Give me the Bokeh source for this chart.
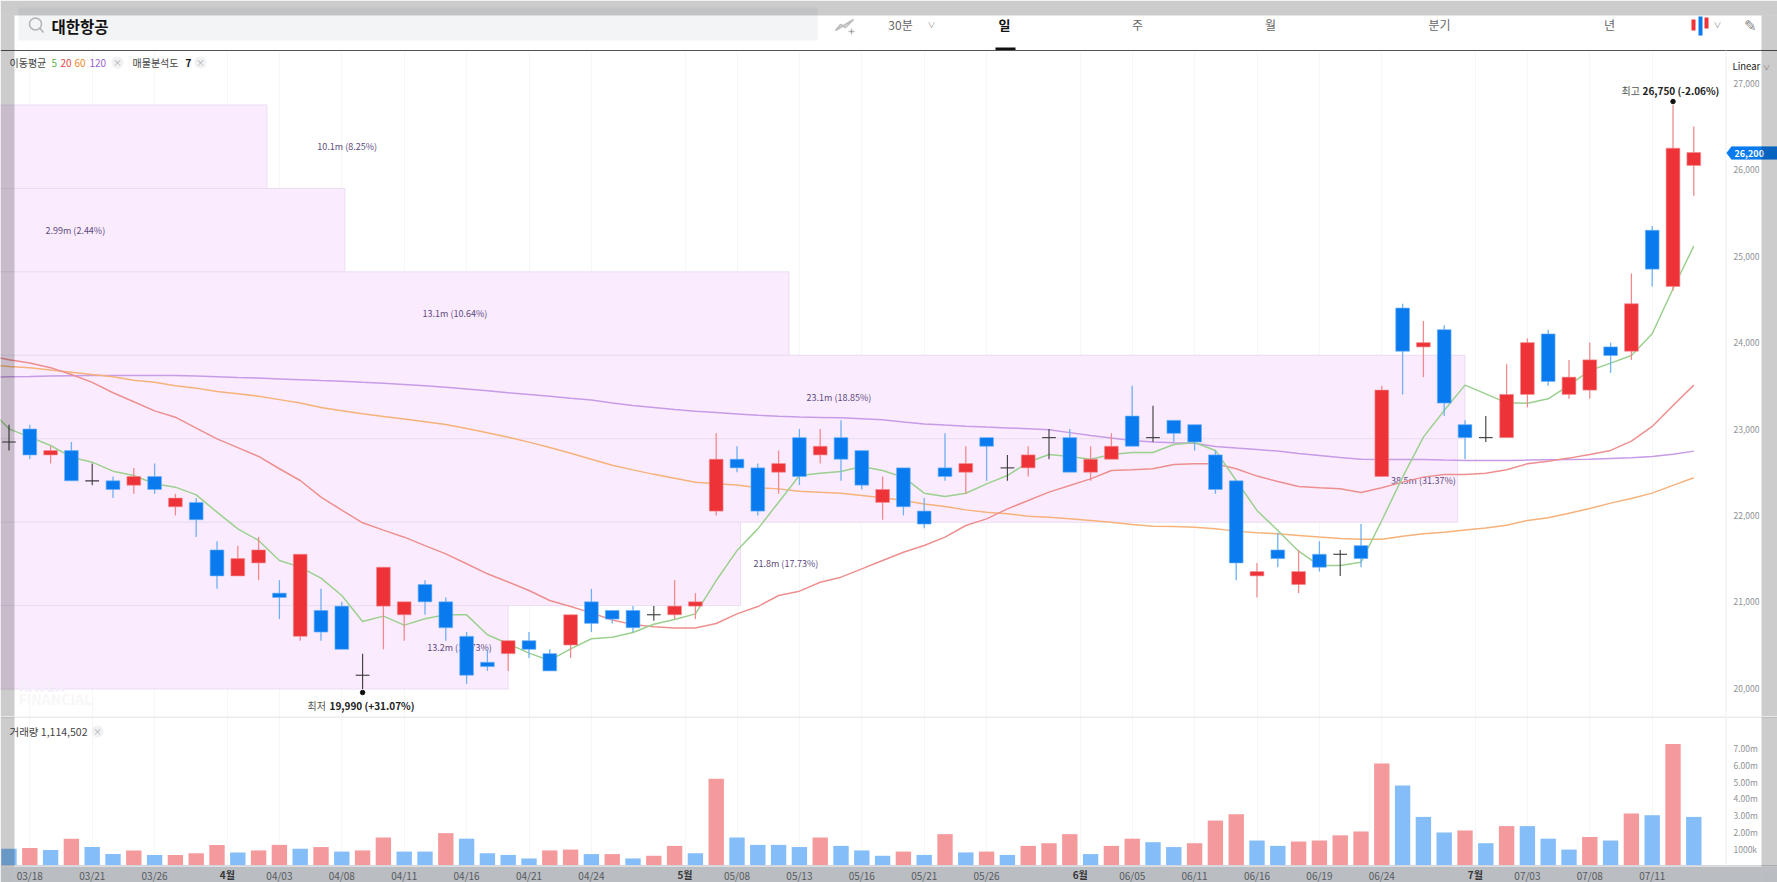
import math
from bokeh.plotting import figure, column
from bokeh.models import (Range1d, FixedTicker, Label, BoxAnnotation, PolyAnnotation)
from bokeh.core.properties import value
from bokeh.embed import file_html
from bokeh.resources import INLINE

FONT = "Noto Sans CJK KR"

# ---------------- data ----------------
opens = [22850,23000,22700,22750,22400,22400,22350,22450,22100,22150,21600,21300,21450,21100,20600,20900,20950,20150,20950,20850,
         21200,21000,20600,20300,20400,20550,20400,20500,21000,20900,20900,20850,20850,20950,22050,22650,22550,22500,22900,22700,
         22900,22750,22150,22550,22050,22550,22500,22900,22550,22550,22900,22900,22500,22650,23150,22900,23100,23050,22700,22400,
         21300,21600,21200,21550,21550,21650,22450,24400,23950,24150,23050,22900,22900,23400,24100,23400,23450,23950,23900,25300,
         24650,26050]
highs = [23050,23050,22800,22850,22600,22450,22550,22600,22250,22200,21700,21650,21750,21250,21550,21150,21000,20400,21400,21000,
         21250,21050,20650,20450,20550,20650,20450,20850,21150,20900,20950,20950,21250,21100,22950,22800,22600,22750,23000,23000,
         23100,22750,22450,22550,22200,22950,22800,22900,22700,22800,23000,23000,22800,22950,23500,23270,23100,23050,22750,22400,
         21450,21800,21600,21700,21600,21900,23500,24450,24250,24200,23100,23150,23750,24050,24150,23800,24000,24000,24800,25350,
         26750,26500]
lows = [22750,22650,22600,22400,22350,22200,22250,22250,22000,21750,21150,21300,21250,20800,20550,20550,20450,19990,20450,20550,
        20850,20550,20050,20200,20200,20350,20200,20350,20650,20750,20650,20780,20800,20800,22000,22500,22000,22250,22350,22600,
        22400,22300,21950,22000,21850,22400,22250,22400,22400,22450,22650,22500,22400,22650,22800,22850,22850,22750,22250,21250,
        21050,21400,21100,21350,21300,21400,22450,23400,23600,23150,22650,22850,22900,23250,23500,23350,23350,23650,23800,24650,
        24600,25700]
closes = [22850,22700,22750,22400,22400,22300,22450,22300,22200,21950,21300,21500,21600,21050,21550,20650,20450,20150,21400,21000,
          21000,20700,20150,20250,20550,20450,20200,20850,20750,20800,20700,20850,20950,21000,22650,22550,22050,22600,22450,22800,
          22650,22350,22300,22100,21900,22450,22600,22800,22550,22700,22900,22500,22650,22800,22800,22900,22950,22850,22300,21450,
          21350,21500,21350,21400,21550,21500,23450,23900,24000,23300,22900,22900,23400,24000,23550,23600,23800,23850,24450,24850,
          26250,26200]

# moving averages; first value belongs to the session just left of the view
ma5 = [23250,
       23002,22906,22809,22674,22616,22512,22462,22366,22327,22238,
       22038,21845,21710,21478,21401,21274,21073,20772,20834,20730,
       20803,20849,20849,20618,20514,20406,20321,20456,20572,20590,
       20644,20740,20795,20860,21246,21593,21844,22153,22461,22488,
       22508,22566,22519,22442,22257,22218,22257,22365,22461,22616,
       22705,22681,22651,22705,22728,22728,22820,22843,22752,22404,
       22057,21826,21586,21420,21420,21459,21941,22443,22906,23215,
       23508,23407,23303,23299,23350,23504,23678,23762,23851,24102,
       24623,25117]
ma20 = [23850,
        23802,23763,23710,23631,23540,23420,23315,23210,23137,23010,
        22886,22785,22682,22540,22404,22211,22060,21914,21830,21748,
        21650,21555,21440,21324,21230,21131,21015,20945,20872,20790,
        20736,20710,20697,20697,20749,20860,20945,21073,21123,21227,
        21285,21381,21478,21574,21651,21748,21883,21960,22076,22172,
        22269,22346,22423,22519,22527,22539,22589,22597,22597,22540,
        22455,22393,22335,22320,22308,22266,22320,22385,22443,22474,
        22474,22489,22528,22597,22628,22663,22705,22752,22860,23030,
        23272,23508]
ma60 = [23740,
        23724,23710,23684,23658,23631,23605,23565,23540,23500,23473,
        23434,23407,23380,23340,23300,23250,23210,23176,23145,23115,
        23085,23052,23005,22956,22905,22848,22785,22720,22650,22580,
        22527,22475,22430,22384,22365,22353,22319,22307,22280,22268,
        22257,22230,22203,22172,22133,22103,22064,22037,22018,21991,
        21979,21960,21941,21921,21894,21875,21871,21864,21845,21818,
        21799,21787,21768,21749,21733,21725,21725,21760,21787,21806,
        21830,21853,21887,21941,21972,22026,22080,22142,22196,22258,
        22347,22435]
ma120 = [23600,
         23605,23608,23612,23615,23618,23620,23620,23620,23618,23612,
         23605,23597,23590,23580,23570,23560,23552,23540,23530,23515,
         23500,23482,23462,23442,23420,23400,23378,23356,23335,23300,
         23272,23248,23225,23206,23190,23175,23160,23148,23140,23134,
         23129,23118,23106,23082,23059,23045,23032,23022,23013,23002,
         22990,22958,22924,22895,22867,22850,22840,22836,22798,22779,
         22763,22744,22717,22694,22671,22651,22647,22647,22647,22640,
         22636,22636,22636,22640,22644,22647,22651,22659,22667,22682,
         22709,22744]

volumes_m = [1.00,1.05,0.93,1.60,1.10,0.68,0.90,0.63,0.63,0.73,1.23,0.78,0.90,1.23,1.00,1.10,0.83,0.90,1.67,0.83,
             0.83,1.93,1.60,0.73,0.63,0.42,0.90,0.95,0.68,0.68,0.42,0.58,1.17,0.73,5.17,1.67,1.23,1.23,1.10,1.67,
             1.17,0.90,0.58,0.83,0.63,1.87,0.78,0.83,0.63,1.17,1.33,1.87,0.68,1.17,1.60,1.39,1.10,1.33,2.68,3.06,
             1.49,1.17,1.43,1.49,1.80,2.03,6.08,4.77,2.90,1.97,2.09,1.33,2.35,2.35,1.60,0.95,1.70,1.49,3.10,3.00,
             7.25,2.90]
volume_side = list("brbrbbrbrrrbrrbrbrrbbrbbbbrrbrbrrbrbbbbrbbb"
                   "rbrbrbrrrbrrbbrrrbbrrrrrbbbrbrbbbrbrbrb")

tick_positions = [1,4,7,13,16,19,22,25,28,35,38,41,44,47,54,57,60,63,66,73,76,79]
tick_labels = ["03/18","03/21","03/26","04/03","04/08","04/11","04/16","04/21","04/24","05/08","05/13","05/16",
               "05/21","05/26","06/05","06/11","06/16","06/19","06/24","07/03","07/08","07/11"]
month_positions = [10.5, 32.5, 51.5, 70.5]
month_labels = ["4월", "5월", "6월", "7월"]

price_ticks = [20000,21000,22000,23000,24000,25000,26000,27000]
volume_ticks = [1,2,3,4,5,6,7]
volume_tick_labels = ["1000k","2.00m","3.00m","4.00m","5.00m","6.00m","7.00m"]

# volume profile bands
band_top = [26750,25784,24819,23853,22887,21921,20956]
band_bottom = [25784,24819,23853,22887,21921,20956,19990]
band_labels = ["10.1m (8.25%)","2.99m (2.44%)","13.1m (10.64%)","23.1m (18.85%)","38.5m (31.37%)","21.8m (17.73%)","13.2m (10.73%)"]
band_end = [12.4,16.15,37.5,70.0,69.65,35.17,24.0]
band_label_x = [16.26,3.19,21.44,39.9,68.0,37.35,21.66]

high_mark = (80, 26790)
low_mark = (17, 19950)

# ---------------- scales ----------------
X0, DX = 8.5, 20.8
AXIS_X = 1725
x_start, x_end = (0 - X0) / DX, (1777 - X0) / DX
PPU = 0.0864
def price_at(y):
    return 26000 - (y - 169.3) / PPU
VOL_BASE, VOL_PPM = 865.0, 16.76
def vol_at(y):
    return (VOL_BASE - y) / VOL_PPM

RED, BLUE = "#EE3338", "#0A7BEF"
RED_W, BLUE_W = "#F28A8D", "#6DB1F6"
DOJI = "#3a3a3a"

main = figure(width=1777, height=716, x_range=Range1d(x_start, x_end),
              y_range=Range1d(price_at(716), price_at(0)),
              output_backend="svg", toolbar_location=None, x_axis_location=None,
              y_axis_location="right", min_border=0, outline_line_color=None)
vol = figure(width=1777, height=166, x_range=main.x_range,
             y_range=Range1d(vol_at(882), vol_at(716)),
             output_backend="svg", toolbar_location=None, y_axis_location="right",
             min_border=0, outline_line_color=None)

grid_ticks = sorted(tick_positions + month_positions)
for f in (main, vol):
    f.xgrid.ticker = FixedTicker(ticks=grid_ticks)
    f.xgrid.grid_line_color = "#f6f6f8"
    f.ygrid.grid_line_color = None
    f.yaxis.fixed_location = (AXIS_X - X0) / DX
    f.yaxis.axis_line_color = None
    f.yaxis.major_tick_line_color = None
    f.yaxis.minor_tick_line_color = None
    f.yaxis.major_tick_out = 0
    f.yaxis.major_label_text_color = "#8f9296"
    f.yaxis.major_label_text_font = FONT
    f.yaxis.major_label_text_font_size = "8.5px"
    f.yaxis.major_label_standoff = 8

main.yaxis.ticker = FixedTicker(ticks=price_ticks)
main.yaxis.major_label_overrides = {t: f"{t:,}" for t in price_ticks}
vol.yaxis.ticker = FixedTicker(ticks=volume_ticks)
vol.yaxis.major_label_overrides = dict(zip(volume_ticks, volume_tick_labels))

vol.xaxis.fixed_location = 0
vol.xaxis.ticker = FixedTicker(ticks=tick_positions)
vol.xaxis.major_label_overrides = dict(zip(tick_positions, tick_labels))
vol.xaxis.axis_line_color = "#d4d7de"
vol.xaxis.major_tick_line_color = None
vol.xaxis.minor_tick_line_color = None
vol.xaxis.major_tick_out = 0
vol.xaxis.major_label_text_color = "#6f7378"
vol.xaxis.major_label_text_font = FONT
vol.xaxis.major_label_text_font_size = "10px"
vol.xaxis.major_label_standoff = 2

# ---------------- volume profile ----------------
main.quad(left=[-1] * 7, right=band_end, top=band_top, bottom=band_bottom,
          fill_color="#FAECFE", line_color="#EBDDF2", line_width=1)
main.text(x=band_label_x, y=[(a + b) / 2 for a, b in zip(band_top, band_bottom)], text=band_labels,
          text_font=value(FONT), text_font_size="9px", text_color="#5E4A7E",
          text_align="center", text_baseline="middle")

# ---------------- moving averages ----------------
ma_x = list(range(-1, 82))
main.line(ma_x, ma120, line_color="#C79BE6", line_width=1.5)
main.line(ma_x, ma60, line_color="#F6B27A", line_width=1.5)
main.line(ma_x, ma20, line_color="#EE8F8F", line_width=1.5)
main.line(ma_x, ma5, line_color="#9BD08E", line_width=1.5)

# ---------------- candles ----------------
idx = list(range(len(opens)))
up = [i for i in idx if closes[i] > opens[i]]
down = [i for i in idx if closes[i] < opens[i]]
flat = [i for i in idx if closes[i] == opens[i]]
def pick(arr, ids):
    return [arr[i] for i in ids]
main.segment(up, pick(highs, up), up, pick(lows, up), line_color=RED_W, line_width=1.3)
main.segment(down, pick(highs, down), down, pick(lows, down), line_color=BLUE_W, line_width=1.3)
main.vbar(x=up, top=pick(closes, up), bottom=pick(opens, up), width=0.66, fill_color=RED, line_color=RED_W, line_width=0.6)
main.vbar(x=down, top=pick(opens, down), bottom=pick(closes, down), width=0.66, fill_color=BLUE, line_color=BLUE_W, line_width=0.6)
main.segment(flat, pick(highs, flat), flat, pick(lows, flat), line_color=DOJI, line_width=1.1)
main.segment([i - 0.33 for i in flat], pick(closes, flat), [i + 0.33 for i in flat], pick(closes, flat),
             line_color=DOJI, line_width=1.1)
main.scatter([high_mark[0], low_mark[0]], [high_mark[1], low_mark[1]], size=4.5, color="#111111")

# ---------------- volume ----------------
r_ids = [i for i, s in enumerate(volume_side) if s == "r"]
b_ids = [i for i, s in enumerate(volume_side) if s == "b"]
vol.vbar(x=r_ids, top=pick(volumes_m, r_ids), bottom=0, width=0.74, fill_color="#F59A9C", line_color=None)
vol.vbar(x=b_ids, top=pick(volumes_m, b_ids), bottom=0, width=0.74, fill_color="#84BDF8", line_color=None)

# ---------------- page furniture ----------------
def T(f, x, y, text, size=10, color="#444444", bold=False, align="left", x_units="canvas"):
    f.add_layout(Label(x=x, y=y, x_units=x_units, y_units="canvas", text=text, text_font=FONT,
                       text_font_size=f"{size}px", text_color=color,
                       text_font_style="bold" if bold else "normal",
                       text_align=align, text_baseline="middle"))
def box(f, l, r, t, b, color, alpha=1.0, level="annotation"):
    f.add_layout(BoxAnnotation(left=l, right=r, top=t, bottom=b, left_units="canvas", right_units="canvas",
                               top_units="canvas", bottom_units="canvas", fill_color=color, fill_alpha=alpha,
                               line_color=None, level=level))
def poly(f, pts, color, fill=None, width=1.2):
    f.add_layout(PolyAnnotation(xs=[p[0] for p in pts], ys=[p[1] for p in pts], xs_units="canvas", ys_units="canvas",
                                fill_color=fill, fill_alpha=1 if fill else 0, line_color=color, line_width=width))
def close_chip(f, x, y):
    poly(f, [(x + 6 * math.cos(a * math.pi / 8), y + 6 * math.sin(a * math.pi / 8)) for a in range(17)],
         "#F1F2F4", fill="#F1F2F4", width=0.5)
    T(f, x, y, "×", 9, "#aaaaaa", align="center")

# header
box(main, 0, 1777, 0, 50, "#ffffff")
box(main, 18, 817, 7, 40, "#F3F4F6")
poly(main, [(35 + 6 * math.cos(a * math.pi / 8), 23.5 + 6 * math.sin(a * math.pi / 8)) for a in range(17)], "#222222", width=1.5)
poly(main, [(39.5, 28), (43, 32)], "#222222", width=1.6)
T(main, 51, 25, "대한항공", 15.5, "#111111", True)
poly(main, [(835, 30), (840, 24), (845, 27), (853, 19)], "#222222", width=1.6)
poly(main, [(851, 28), (851, 34)], "#222222", width=1.4)
poly(main, [(848, 31), (854, 31)], "#222222", width=1.4)
T(main, 900, 24, "30분", 12, "#666666", align="center")
T(main, 931, 24, "∨", 8, "#999999", align="center")
T(main, 1004, 24, "일", 13, "#111111", True, align="center")
box(main, 995, 1015, 47, 50, "#111111")
for xpos, tab in zip([1137, 1270, 1439, 1609], ["주", "월", "분기", "년"]):
    T(main, xpos, 24, tab, 12, "#666666", align="center")
box(main, 1691, 1695, 19, 30, "#EE3338")
box(main, 1698, 1702, 16, 35, "#0A7BEF")
box(main, 1704, 1708, 17, 28, "#EE3338")
T(main, 1717, 24, "∨", 8, "#999999", align="center")
T(main, 1750, 24, "✎", 15, "#888888", align="center")
box(main, 0, 1777, 49.5, 50.5, "#555555")
box(main, AXIS_X, AXIS_X + 1, 50, 716, "#eeeeee")

# legends
T(main, 9, 62, "이동평균", 10, "#444444")
T(main, 51, 62, "5", 10, "#5DB54A")
T(main, 60, 62, "20", 10, "#E5484D")
T(main, 74, 62, "60", 10, "#F08A2C")
T(main, 89, 62, "120", 10, "#9A63D6")
close_chip(main, 117, 62)
T(main, 132, 62, "매물분석도", 10, "#444444")
T(main, 185, 62, "7", 10, "#111111", True)
close_chip(main, 200, 62)
T(main, 1732, 65, "Linear", 9.5, "#222222")
T(main, 1766, 66, "∨", 7, "#999999", align="center")

# extreme labels
T(main, 1621, 90, "최고", 10, "#555555")
T(main, 1642, 90, "26,750 (-2.06%)", 10, "#222222", True)
T(main, 307, 705, "최저", 10, "#555555")
T(main, 329, 705, "19,990 (+31.07%)", 10, "#222222", True)

# watermark
T(main, 18, 685, "NAVER", 14, "#F6EEF9", True)
T(main, 18, 698, "FINANCIAL", 14, "#F7F7F8", True)

# current price tag
poly(main, [(1726, 152.5), (1731, 146), (1777, 146), (1777, 159), (1731, 159)], "#0A7BEF", fill="#0A7BEF", width=0.5)
T(main, 1734, 152.5, "26,200", 9, "#ffffff", True)

# frame tint
box(main, 0, 1777, 0, 15, "#000000", 0.2, "overlay")
box(main, 0, 14, 15, 716, "#000000", 0.2, "overlay")
box(main, 1761, 1777, 15, 716, "#000000", 0.2, "overlay")

# lower panel
box(vol, 0, 1777, 0, 1, "#D5D8E0")
box(vol, AXIS_X, AXIS_X + 1, 0, 150, "#eeeeee")
T(vol, 9, 15, "거래량 1,114,502", 10.5, "#444444")
close_chip(vol, 97, 15)
box(vol, 0, 1777, 150, 166, "#E9EDF3", level="underlay")
for mpos, mlab in zip(month_positions, month_labels):
    T(vol, mpos, 158, mlab, 10, "#444444", True, align="center", x_units="data")
box(vol, 0, 14, 0, 166, "#000000", 0.2, "overlay")
box(vol, 1761, 1777, 0, 166, "#000000", 0.2, "overlay")
box(vol, 14, 1761, 150, 166, "#000000", 0.2, "overlay")

page = column(main, vol, spacing=0, styles={"position": "absolute", "left": "0px", "top": "0px"})
open("out.html", "w").write(file_html(page, INLINE))
